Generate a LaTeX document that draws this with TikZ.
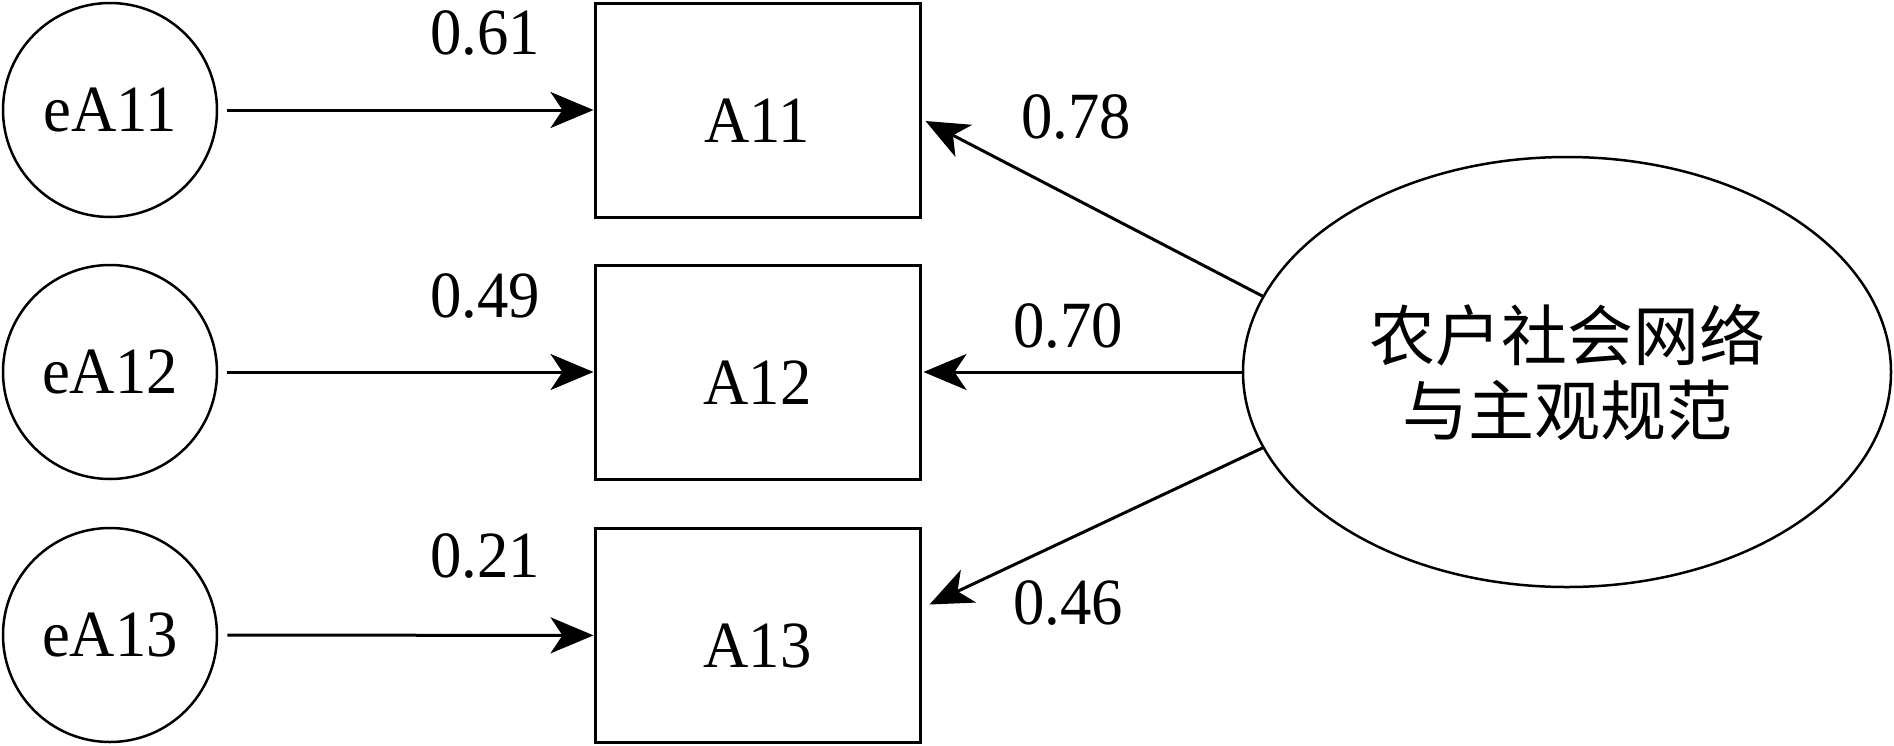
\documentclass[tikz,border=0pt]{standalone}
\usepackage{fontspec}
\setmainfont{Liberation Serif}[FakeStretch=0.95]
\newfontfamily\cjk{Noto Sans CJK SC}
\usetikzlibrary{arrows.meta,shapes.geometric}
\begin{document}
\begin{tikzpicture}[x=1pt,y=-1pt,
  every node/.style={font=\fontsize{66}{74}\selectfont},
  err/.style={draw, circle, line width=2.5pt, minimum size=214pt, inner sep=0pt},
  obs/.style={draw, rectangle, line width=3pt, minimum width=325pt, minimum height=214pt, inner sep=0pt, text height=64pt, text depth=0pt},
  lat/.style={draw, ellipse, line width=2.5pt, minimum width=648pt, minimum height=430pt, inner sep=0pt, align=center, font=\cjk\fontsize{66}{75}\selectfont},
  conn/.style={line width=3pt, -{Stealth[length=43pt,width=36pt,inset=12pt]}},
  num/.style={inner sep=0pt}
]
\useasboundingbox (0,0) rectangle (1894,745);
\node[err] (e1) at (110,110) {eA11};
\node[err] (e2) at (110,372) {eA12};
\node[err] (e3) at (110,635) {eA13};
\node[obs] (A11) at (757.5,110) {A11};
\node[obs] (A12) at (757.5,372) {A12};
\node[obs] (A13) at (757.5,635.5) {A13};
\node[lat] (F) at (1567,372) {农户社会网络\\与主观规范};
\draw[conn, shorten <=9pt] (e1) -- (A11);
\draw[conn, shorten <=9pt] (e2) -- (A12);
\draw[conn, shorten <=9pt] (e3) -- (A13);
\draw[conn] (F.166) -- ([xshift=4pt,yshift=-11pt]A11.east);
\draw[conn] (F.west) -- ([xshift=2pt]A12.east);
\draw[conn] (F.194) -- ([xshift=8pt,yshift=31pt]A13.east);
\node[num] (l1) at (485,33) {0.61};
\node[num] (l2) at (485,296) {0.49};
\node[num] (l3) at (485,556) {0.21};
\node[num] (l4) at (1076,117) {0.78};
\node[num] (l5) at (1068,326) {0.70};
\node[num] (l6) at (1068,603) {0.46};
\end{tikzpicture}
\end{document}
